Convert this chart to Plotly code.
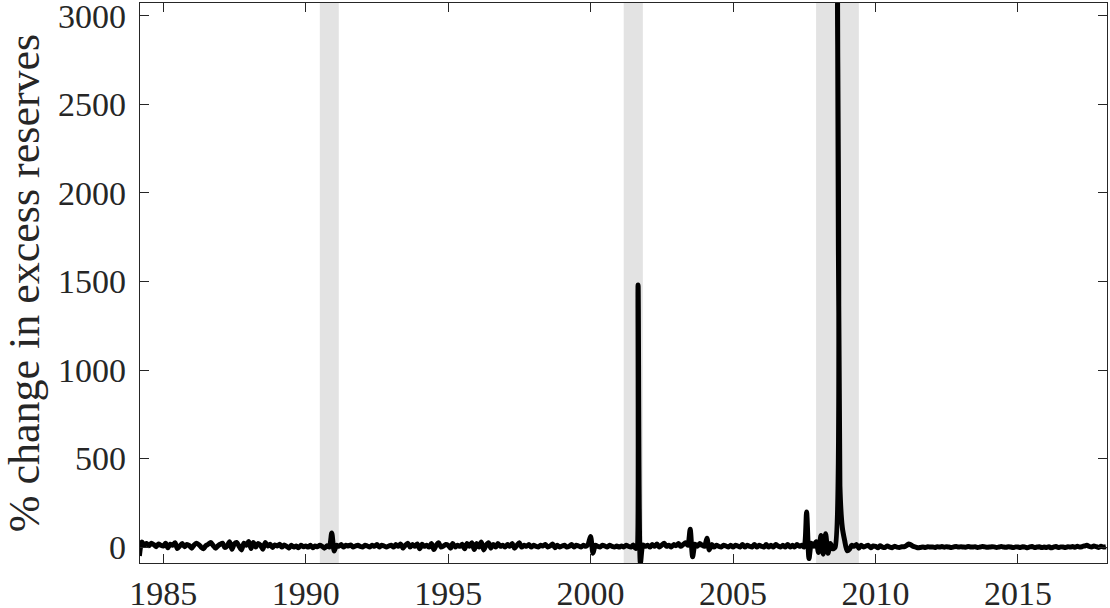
import pandas as pd
import plotly.graph_objects as go

# monthly % change in excess reserves, Mar 1984 - Feb 2018
y1984 = [-50, 28, 12, 20, 8, 22, 14, 2, 18, 10]
y1985 = [6, 22, -4, 16, 10, 24, -8, 6, 20, 2, 14, 8]
y1986 = [-6, 12, 22, 14, 0, -10, 8, 16, 26, 10, -6, 6]
y1987 = [16, 22, -2, 6, 30, -12, 18, 26, 4, -16, 22, 10]
y1988 = [32, -8, 26, 0, 20, 10, -12, 26, 6, 16, -2, 12]
y1989 = [6, 16, 0, 12, 4, -6, 10, 0, 6, -4, 10, 2]
y1990 = [6, 0, 10, -4, 6, 2, 10, 4, -6, 8, 0, 80]
y1991 = [-22, 10, 4, 14, 0, 10, 6, 12, 0, 6, 10, 4]
y1992 = [0, 10, 6, 0, 10, 4, 14, 0, 10, 6, 0, 6]
y1993 = [10, 0, 14, 4, 18, -6, 10, 22, 0, 14, 4, 18]
y1994 = [-10, 16, 4, 10, 0, 20, -14, 10, 24, 0, 6, 14]
y1995 = [10, -6, 20, 0, 10, 4, 16, -10, 20, 4, 24, -14]
y1996 = [20, 0, 28, -16, 10, 24, -6, 14, 0, 20, 4, 10]
y1997 = [0, 14, 4, 20, -6, 10, 24, 0, 10, 4, 14, 0]
y1998 = [10, 4, 0, 10, 6, 14, 0, 6, 18, -4, 10, 0]
y1999 = [6, 10, 0, 4, 14, 0, 10, 6, 0, 10, 4, 16]
y2000 = [60, -35, 10, 4, 0, 10, 6, 0, 10, 4, 0, 6]
y2001 = [0, 6, 0, 10, 4, 0, 12, -8, 1480, -90, 12, 4]
y2002 = [10, 0, 14, 4, 18, 0, 10, 22, 4, 10, 0, 14]
y2003 = [8, 20, 4, 14, 24, 10, 100, -55, 16, 4, 20, 10]
y2004 = [4, 50, -16, 14, 0, 10, 4, 0, 10, 6, 0, 10]
y2005 = [0, 10, 6, 0, 14, 0, 10, 4, 0, 14, 0, 10]
y2006 = [4, 0, 14, 0, 10, 0, 14, 6, 0, 10, 0, 14]
y2007 = [0, 10, 0, 14, 4, 10, 0, 198, -65, 22, 4, 30]
y2008 = [-30, 65, -40, 75, -35, 20, -10, 0, 3075, 345, 110, 37]
y2009 = [-20, -12, 10, 4, 14, -6, 10, 0, 6, 10, -4, 6]
y2010 = [4, -4, 8, 0, -2, 6, 0, -4, 4, 0, -2, 2]
y2011 = [2, 8, 18, 12, 4, 0, -4, -2, 0, -2, 2, 0]
y2012 = [1, -2, 2, 0, 3, -1, 2, 0, -2, 1, 3, 0]
y2013 = [2, 0, -1, 3, 1, 0, 2, -2, 0, 3, 1, -1]
y2014 = [0, 2, 1, -2, 0, 3, 0, -1, 2, 0, -3, 1]
y2015 = [0, -2, 2, 0, -4, 1, 3, -2, 0, 2, -3, 0]
y2016 = [-2, 2, -4, 0, 3, -3, 1, 0, -2, 2, 0, 3]
y2017 = [-1, 4, 0, 2, 6, 10, 4, 0, 6, 2, -2, 4]
y2018 = [0, 2]

# NBER recessions
rec_start = ["1990-07-01", "2001-03-01", "2007-12-01"]
rec_end = ["1991-03-01", "2001-11-01", "2009-06-01"]

tick_years = [1985, 1990, 1995, 2000, 2005, 2010, 2015]
y_ticks = [0, 500, 1000, 1500, 2000, 2500, 3000]

values = (y1984 + y1985 + y1986 + y1987 + y1988 + y1989 + y1990 + y1991
          + y1992 + y1993 + y1994 + y1995 + y1996 + y1997 + y1998 + y1999
          + y2000 + y2001 + y2002 + y2003 + y2004 + y2005 + y2006 + y2007
          + y2008 + y2009 + y2010 + y2011 + y2012 + y2013 + y2014 + y2015
          + y2016 + y2017 + y2018)
dates = pd.date_range("1984-03-01", periods=len(values), freq="MS")

font = "Liberation Serif"
axcol = "#262626"

fig = go.Figure()
fig.add_trace(go.Scatter(x=dates, y=values, mode="lines",
                         line=dict(color="black", width=5, shape="spline",
                                   smoothing=0.7),
                         showlegend=False))

for s, e in zip(rec_start, rec_end):
    fig.add_vrect(x0=s, x1=e, fillcolor="#e3e3e3", line_width=0, layer="below")

fig.update_layout(
    width=1110, height=608,
    margin=dict(l=140, r=3, t=3, b=45),
    plot_bgcolor="white", paper_bgcolor="white",
    font=dict(family=font, size=34, color="#262626"),
)
fig.update_xaxes(
    range=[dates[0] + pd.Timedelta(days=8), dates[-1] + pd.Timedelta(days=14)],
    tickvals=[pd.Timestamp(f"{y}-01-01") for y in tick_years],
    ticktext=[str(y) for y in tick_years],
    ticks="inside", ticklen=9, tickwidth=1.3, tickcolor=axcol,
    showline=True, linecolor=axcol, linewidth=1.3, mirror="ticks",
    showgrid=False, zeroline=False, automargin=False,
    ticklabeloverflow="allow",
)
fig.update_yaxes(
    range=[-90, 3073],
    tickvals=y_ticks,
    ticks="inside", ticklen=9, tickwidth=1.3, tickcolor=axcol,
    showline=True, linecolor=axcol, linewidth=1.3, mirror="ticks",
    showgrid=False, zeroline=False, ticklabelstandoff=6,
    automargin=False, ticklabeloverflow="allow",
    title=dict(text="% change in excess reserves", standoff=20,
               font=dict(size=44)),
)

fig.write_html("out.html", config={"displayModeBar": False},
               post_script="document.body.style.margin='0px';")
